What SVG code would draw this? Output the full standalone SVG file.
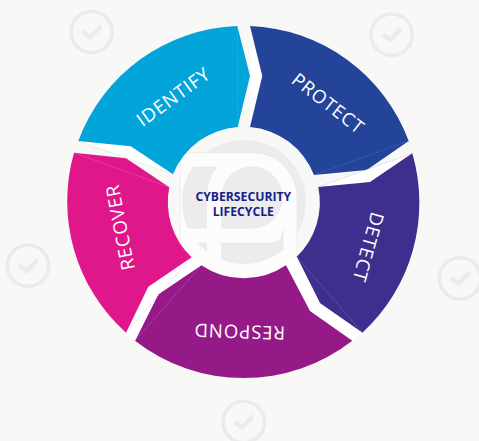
<svg xmlns="http://www.w3.org/2000/svg" width="479" height="441" viewBox="0 0 479 441">
<style>
.wedge{fill:#fff}
.chord{fill:none;stroke-width:.5;stroke-dasharray:2 1}
.lab{font-family:"Open Sans","Liberation Sans",sans-serif;font-size:18.6px;font-weight:500;letter-spacing:.9px;fill:#fff;text-anchor:middle}
.ctr{font-family:"Open Sans","Liberation Sans",sans-serif;font-size:12.2px;font-weight:700;fill:#16208a;text-anchor:middle}
.ring{fill:none;stroke:#ebebeb;stroke-width:3.6}
.tick{fill:none;stroke:#ebebeb;stroke-width:4.6;stroke-linecap:round;stroke-linejoin:round}
.blk{fill:#ececec;stroke:#dcdcdc;stroke-width:.6;stroke-dasharray:2 1}
</style>
<defs>
<clipPath id="disc"><circle cx="244" cy="202" r="62"/></clipPath>
<g id="chk"><circle class="ring" r="20.7"/><path class="tick" d="M-7.7 .7L-1.7 5.3L8.3 -4.7"/></g>
</defs>
<rect width="479" height="441" fill="#f8f8f7"/>
<g id="checks">
<use href="#chk" x="91.7" y="32"/>
<use href="#chk" x="391.7" y="34.7"/>
<use href="#chk" x="460" y="278.3"/>
<use href="#chk" x="243.7" y="422"/>
<use href="#chk" x="28" y="265.7"/>
</g>
<g id="hub">
<circle cx="244" cy="202" r="62" fill="#ececec"/>
<path d="M180 152.7H252A45 45 0 0 1 297 197V292H180Z" fill="#fcfcfc" stroke="#dcdcdc" stroke-width=".6" stroke-dasharray="2 1"/>
<g clip-path="url(#disc)">
<path class="blk" d="M170 167H216.7Q206.5 180 206.5 197V228H170Z"/>
<path class="blk" d="M221.7 228V197A30 30 0 0 1 282 197A30 30 0 0 1 252 228Z"/>
<path class="blk" d="M170 243H206.5V280H170Z"/>
<path class="blk" d="M221.7 243H270Q283 243 283 230V280H221.7Z"/>
</g>
<text class="ctr" x="243.3" y="201">CYBERSECURITY</text>
<text class="ctr" x="243.3" y="216">LIFECYCLE</text>
</g>
<g id="identify">
<path class="wedge" d="M78.3 141L130.7 146.3L173 174.3Z"/>
<path d="M78.3 141A176.5 176.5 0 0 1 237.3 26L250 76L237.7 127A75.5 75.5 0 0 0 173 174.3L130.7 146.3Z" fill="#03a4d9"/>
<path class="chord" stroke="#9adcf2" d="M78.3 141L173 174.3"/>
<path class="chord" stroke="#35b6e2" stroke-dasharray="none" d="M237.3 26L237.7 127"/>
<text class="lab" transform="translate(173.3 96.7) rotate(-36)" dy=".36em">IDENTIFY</text>
</g>
<g id="protect">
<path class="wedge" d="M250 26L262.3 76L250 127Z"/>
<path d="M250 26A176.5 176.5 0 0 1 408.7 141L366.7 170L314 175A75.5 75.5 0 0 0 250 127L262.3 76Z" fill="#24449a"/>
<path class="chord" stroke="#5f78bb" d="M314 175L408.7 141"/>
<text class="lab" transform="translate(328.3 103.3) rotate(38)" dy=".36em">PROTECT</text>
</g>
<g id="detect">
<path class="wedge" d="M318.3 187L370 182L412.3 153.3Z"/>
<path d="M412.3 153.3A176.5 176.5 0 0 1 362.3 332.7L320 303.3L296.7 256.7A75.5 75.5 0 0 0 318.3 187L370 182Z" fill="#3e2f8f"/>
<path class="chord" stroke="#b3addb" d="M318.3 187L412.3 153.3"/>
<path class="chord" stroke="#8a80c4" stroke-dasharray="none" d="M296.7 256.7L362.3 332.7"/>
<text class="lab" transform="translate(368.3 247.3) rotate(105.7)" dy=".36em">DETECT</text>
</g>
<g id="respond">
<path class="wedge" d="M296.7 256.7L320 303.3L362.3 332.7L352.3 340.7L310 311L286 265.3Z"/>
<path d="M135 340.7L158.3 294.3L201.3 265.3A75.5 75.5 0 0 0 286 265.3L310 311L352.3 340.7A176.5 176.5 0 0 1 135 340.7Z" fill="#951a87"/>
<path class="chord" stroke="#c77bbd" stroke-dasharray="none" d="M135 340.7L201.3 265.3"/>
<text class="lab" transform="translate(239.3 331.7) rotate(182)" dy=".36em">RESPOND</text>
</g>
<g id="recover">
<path class="wedge" d="M126 332.7L148.3 286.7L191.7 257.3L201.3 265.3L158.3 294.3L135 340.7Z"/>
<path d="M74 152.7L126 158.3L169.3 187.3A75.5 75.5 0 0 0 191.7 257.3L148.3 286.7L126 332.7A176.5 176.5 0 0 1 74 152.7Z" fill="#e0178a"/>
<path class="chord" stroke="#f07cbd" d="M74 152.7L169.3 187.3"/>
<path class="chord" stroke="#f3a6d0" d="M126 332.7L191.7 257.3"/>
<text class="lab" transform="translate(120 227.3) rotate(-101)" dy=".36em">RECOVER</text>
</g>
</svg>
